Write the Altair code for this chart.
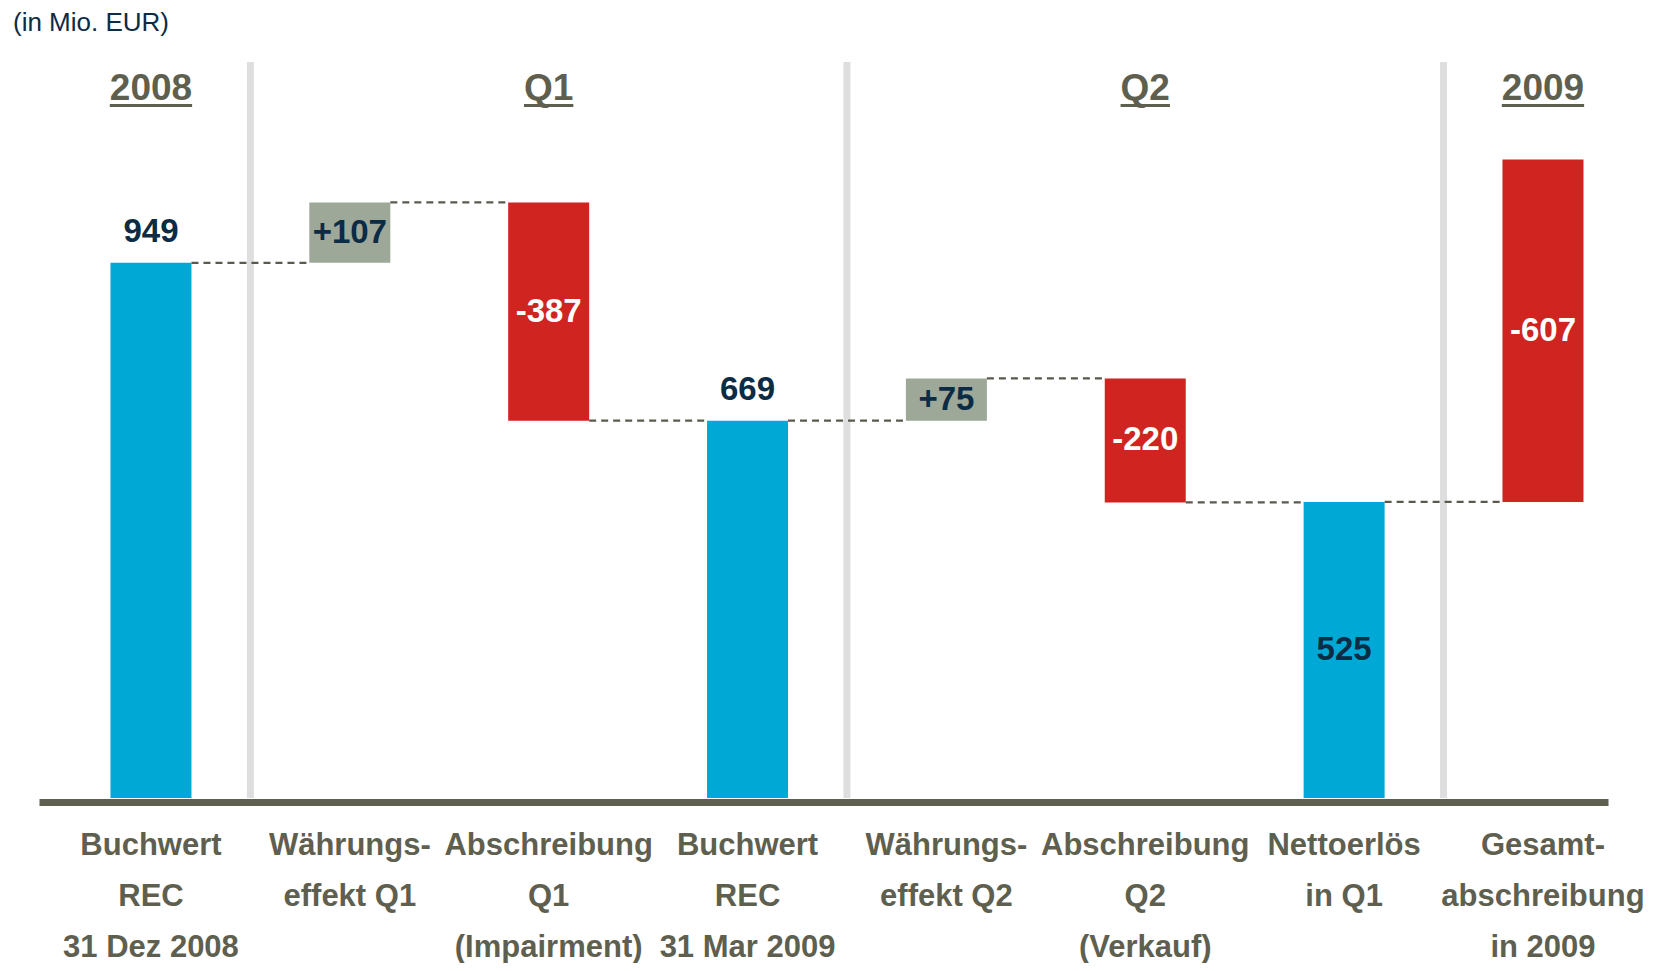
import altair as alt
import pandas as pd

# ---------------- data ----------------
categories = [
    "Buchwert\nREC\n31 Dez 2008",
    "Währungs-\neffekt Q1",
    "Abschreibung\nQ1\n(Impairment)",
    "Buchwert\nREC\n31 Mar 2009",
    "Währungs-\neffekt Q2",
    "Abschreibung\nQ2\n(Verkauf)",
    "Nettoerlös\nin Q1",
    "Gesamt-\nabschreibung\nin 2009",
]
values = [949, 107, -387, 669, 75, -220, 525, -607]
kinds = ["total", "delta", "delta", "total", "delta", "delta", "total", "sum"]
value_labels = ["949", "+107", "-387", "669", "+75", "-220", "525", "-607"]
group_names = ["2008", "Q1", "Q2", "2009"]
group_members = [[0], [1, 2, 3], [4, 5, 6], [7]]
unit_title = ["(in Mio. EUR)"]

# ---------------- styling / layout ----------------
BLUE, RED, GREYGREEN = "#00a8d6", "#d02420", "#9da898"
NAVY, OLIVE, SEP, DASH = "#0c2b44", "#5f5f50", "#dedede", "#5a5a4e"
FONT = "'Liberation Sans', Arial, sans-serif"
W, H = 1569, 736
XDOM = [-0.563, 7.327]
YMAX = 1305
BAR_PX = 81
step_px = W / (XDOM[1] - XDOM[0])
hw = BAR_PX / 2 / step_px
labels_above = {0, 3}
VFS, CFS, HFS = 33, 31, 37

# ---------------- derived tables ----------------
rows = []
running = 0
for i, (c, v, k, lab) in enumerate(zip(categories, values, kinds, value_labels)):
    if k == "total":
        start, end = 0, v
        running = v
    elif k == "delta":
        start, end = running, running + v
        running = end
    else:  # cumulative write-down stacked on the last total
        start, end = running, running + abs(v)
    if k == "total":
        fill, tcol = BLUE, NAVY
    elif v > 0:
        fill, tcol = GREYGREEN, NAVY
    else:
        fill, tcol = RED, "white"
    rows.append(dict(idx=i, cat=c, start=start, end=end, mid=(start + end) / 2,
                     top=max(start, end), label=lab, fill=fill, tcol=tcol,
                     above=1 if i in labels_above else 0, zero=0))
df = pd.DataFrame(rows)

conn = pd.DataFrame([
    dict(x0=rows[i]["idx"] + hw, x1=rows[i + 1]["idx"] - hw, level=rows[i]["end"])
    for i in range(len(rows) - 1)
])

seps = pd.DataFrame([dict(xs=g[-1] + 0.5, y0=0, y1=YMAX) for g in group_members[:-1]])


def text_w(s, fs):
    widths = {"Q": 0.778}
    return sum(widths.get(ch, 0.556) for ch in s) * fs


heads = pd.DataFrame([
    dict(name=n, xc=sum(m) / len(m),
         ul0=sum(m) / len(m) - text_w(n, HFS) / 2 / step_px,
         ul1=sum(m) / len(m) + text_w(n, HFS) / 2 / step_px)
    for n, m in zip(group_names, group_members)
])

title_df = pd.DataFrame({"t": unit_title, "x": [XDOM[0]]})

# ---------------- encodings ----------------
xscale = alt.Scale(domain=XDOM, nice=False, zero=False, padding=0)
yscale = alt.Scale(domain=[0, YMAX], nice=False, zero=False, padding=0)
xaxis = alt.Axis(domain=True, domainColor=OLIVE, domainWidth=7, ticks=False,
                 labels=False, grid=False, title=None, offset=4)


def X(f):
    return alt.X(f, scale=xscale, axis=xaxis)


def Y(f):
    return alt.Y(f, scale=yscale, axis=None)


base = alt.Chart(df)

separators = alt.Chart(seps).mark_rule(strokeWidth=7, color=SEP).encode(
    x=X("xs:Q"), y=Y("y0:Q"), y2="y1:Q"
)

bars = base.mark_bar(size=BAR_PX).encode(
    x=X("idx:Q"), y=Y("start:Q"), y2="end:Q",
    color=alt.Color("fill:N", scale=None),
)

connectors = alt.Chart(conn).mark_rule(strokeWidth=2.2, strokeDash=[7, 5], color=DASH).encode(
    x=X("x0:Q"), x2="x1:Q", y=Y("level:Q")
)

lab_above = base.transform_filter("datum.above == 1").mark_text(
    font=FONT, fontSize=VFS, fontWeight="bold", color=NAVY, baseline="alphabetic", dy=-21
).encode(x=X("idx:Q"), y=Y("top:Q"), text="label:N")

lab_inside = base.transform_filter("datum.above == 0").mark_text(
    font=FONT, fontSize=VFS, fontWeight="bold", baseline="middle"
).encode(x=X("idx:Q"), y=Y("mid:Q"), text="label:N",
         color=alt.Color("tcol:N", scale=None))

cat_labels = base.mark_text(
    font=FONT, fontSize=CFS, fontWeight="bold", color=OLIVE, baseline="alphabetic",
    lineBreak="\n", lineHeight=51, dy=57
).encode(x=X("idx:Q"), y=Y("zero:Q"), text="cat:N")

head_text = alt.Chart(heads).mark_text(
    font=FONT, fontSize=HFS, fontWeight="bold", color=OLIVE, baseline="alphabetic"
).encode(x=X("xc:Q"), y=alt.value(38), text="name:N")

head_ul = alt.Chart(heads).mark_rule(strokeWidth=3, color=OLIVE).encode(
    x=X("ul0:Q"), x2="ul1:Q", y=alt.value(43.5)
)

title_txt = alt.Chart(title_df).mark_text(
    font=FONT, fontSize=26, color=NAVY, baseline="alphabetic", align="left", dx=-26
).encode(x=X("x:Q"), y=alt.value(-31), text="t:N")

chart = alt.layer(
    separators, bars, connectors, lab_above, lab_inside, cat_labels, head_text, head_ul,
    title_txt
).properties(
    width=W, height=H,
    autosize=alt.AutoSizeParams(type="none"),
    padding={"left": 31, "top": 54, "right": 50, "bottom": 165},
    background="white",
).configure_view(strokeWidth=0)

chart.save("out.html", embed_options={"renderer": "svg", "actions": False})
